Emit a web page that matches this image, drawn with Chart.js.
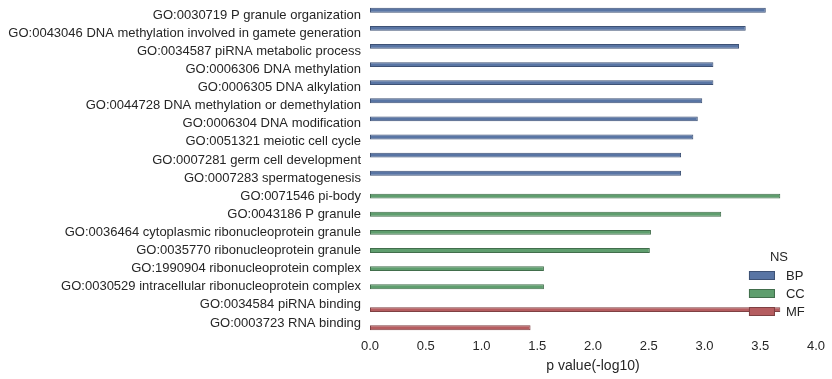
<!DOCTYPE html>
<html>
<head>
<meta charset="utf-8">
<script src="https://cdn.jsdelivr.net/npm/chart.js@4/dist/chart.umd.min.js"></script>
<style>
  html, body { margin: 0; padding: 0; background: #fff; }
  #wrap { width: 832px; height: 379px; }
</style>
</head>
<body>
<div id="wrap"><canvas id="chart"></canvas></div>
<script>
const terms = [
  "GO:0030719 P granule organization",
  "GO:0043046 DNA methylation involved in gamete generation",
  "GO:0034587 piRNA metabolic process",
  "GO:0006306 DNA methylation",
  "GO:0006305 DNA alkylation",
  "GO:0044728 DNA methylation or demethylation",
  "GO:0006304 DNA modification",
  "GO:0051321 meiotic cell cycle",
  "GO:0007281 germ cell development",
  "GO:0007283 spermatogenesis",
  "GO:0071546 pi-body",
  "GO:0043186 P granule",
  "GO:0036464 cytoplasmic ribonucleoprotein granule",
  "GO:0035770 ribonucleoprotein granule",
  "GO:1990904 ribonucleoprotein complex",
  "GO:0030529 intracellular ribonucleoprotein complex",
  "GO:0034584 piRNA binding",
  "GO:0003723 RNA binding"
];
const namespaces = ["BP", "CC", "MF"];
const termNS = ["BP","BP","BP","BP","BP","BP","BP","BP","BP","BP",
                "CC","CC","CC","CC","CC","CC","MF","MF"];
const pvals = [3.55, 3.37, 3.31, 3.08, 3.08, 2.98, 2.94, 2.90, 2.79, 2.79,
               3.68, 3.15, 2.52, 2.51, 1.56, 1.56, 3.68, 1.44];
const xTicks = [0, 0.5, 1, 1.5, 2, 2.5, 3, 3.5, 4];

const fills = { BP: "#5975a4", CC: "#5f9e6e", MF: "#b55d60" };
const edges = { BP: "#3e5275", CC: "#426e4c", MF: "#7f4143" };
const textColor = "#262626";
const font = "'Liberation Sans', Arial, sans-serif";

const datasets = namespaces.map(ns => ({
  label: ns,
  data: pvals.map((v, i) => termNS[i] === ns ? v : null),
  backgroundColor: fills[ns],
  borderColor: edges[ns],
  borderWidth: 1,
  borderSkipped: false,
  categoryPercentage: 0.8,
  barPercentage: 1.0
}));

// seaborn-style legend drawn inside the plot area, lower right
const nsLegend = {
  id: "nsLegend",
  afterDraw(chart) {
    const { ctx, chartArea } = chart;
    const x0 = chartArea.right - 67;
    const y0 = chartArea.bottom - 75;
    ctx.save();
    ctx.font = "13px " + font;
    ctx.fillStyle = textColor;
    ctx.textAlign = "center";
    ctx.textBaseline = "middle";
    ctx.fillText("NS", x0 + 30, y0);
    namespaces.forEach((ns, i) => {
      const y = y0 + 14 + i * 18;
      ctx.fillStyle = fills[ns];
      ctx.fillRect(x0, y, 26, 9);
      ctx.strokeStyle = edges[ns];
      ctx.lineWidth = 1;
      ctx.strokeRect(x0 + 0.5, y + 0.5, 25, 8);
      ctx.fillStyle = textColor;
      ctx.textAlign = "left";
      ctx.fillText(ns, x0 + 37, y + 5);
    });
    ctx.restore();
  }
};

new Chart(document.getElementById("chart"), {
  type: "bar",
  data: { labels: terms, datasets: datasets },
  plugins: [nsLegend],
  options: {
    indexAxis: "y",
    responsive: true,
    maintainAspectRatio: false,
    animation: false,
    layout: { padding: { top: 6, right: 16, bottom: 0, left: 0 } },
    plugins: {
      legend: { display: false },
      tooltip: { enabled: false }
    },
    scales: {
      y: {
        grid: { display: false, drawTicks: false },
        border: { display: false },
        ticks: { color: textColor, font: { family: font, size: 13 }, padding: 9, autoSkip: false },
        afterFit(scale) {
          scale.width = 370;
          scale.paddingTop = 0;
          scale.paddingBottom = 0;
        }
      },
      x: {
        min: 0,
        max: 4,
        grid: { display: false, drawTicks: false },
        border: { display: false },
        afterBuildTicks(scale) { scale.ticks = xTicks.map(v => ({ value: v })); },
        ticks: {
          color: textColor,
          font: { family: font, size: 13 },
          padding: 7,
          maxRotation: 0,
          callback: v => Number(v).toFixed(1)
        },
        title: {
          display: true,
          text: "p value(-log10)",
          color: textColor,
          font: { family: font, size: 14 },
          padding: { top: 3, bottom: 4 }
        },
        afterFit(scale) { scale.height = 47; }
      }
    }
  }
});
</script>
</body>
</html>
